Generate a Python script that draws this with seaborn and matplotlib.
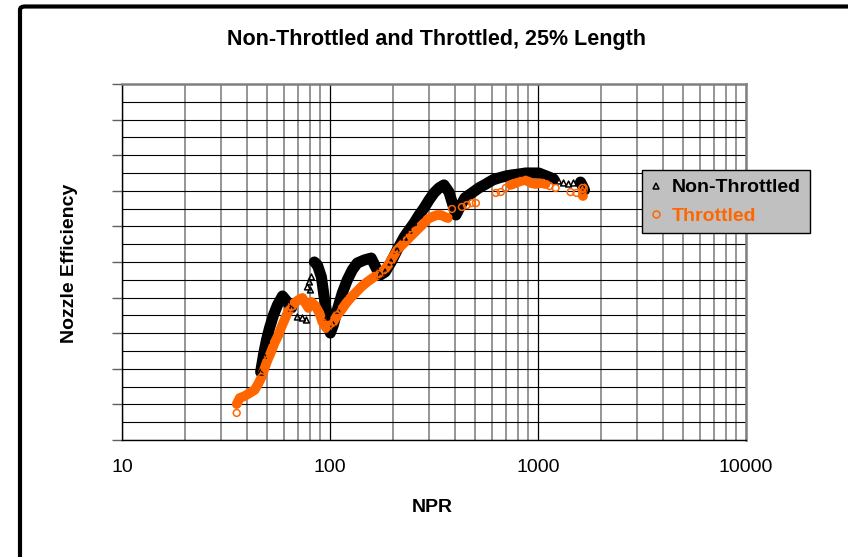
import numpy as np
import pandas as pd
import seaborn as sns
import matplotlib
matplotlib.use("Agg")
import matplotlib.pyplot as plt
from matplotlib.ticker import LogLocator, MultipleLocator, NullFormatter, FixedLocator, FixedFormatter
from matplotlib.lines import Line2D
from matplotlib.patches import FancyBboxPatch

# ---------------- data ----------------
TITLE = "Non-Throttled and Throttled, 25% Length"
X_LABEL = "NPR"
Y_LABEL = "Nozzle Efficiency"
SERIES_NAMES = ["Non-Throttled", "Throttled"]
X_TICKS = [10, 100, 1000, 10000]
X_TICK_LABELS = ["10", "100", "1000", "10000"]

# group 0 = isolated points, groups >0 = dense bands of points
nt_npr = [46.4, 47.9, 49.5, 51.2, 53.5, 55.9, 59.1, 62.4, 65.3,
          69.7, 73.7, 77.0, 77.9, 79.6, 81.4, 80.5,
          84.1, 87.0, 90.9, 93.9, 97.1, 100.4, 103.7, 108.4, 114.6, 121.1, 127.9,
          135.2, 146.0, 157.8, 166.7, 174.2, 184.1, 196.7, 210.2, 227.2, 240.0,
          253.6, 268.0, 283.2, 299.2, 316.2, 334.2, 353.1, 373.2, 390.0, 403.1,
          421.3, 445.3, 481.0, 519.6, 561.4, 606.4, 647.9, 699.8, 747.8, 807.9,
          872.9, 942.8, 1007, 1064, 1125, 1189,
          1256, 1327, 1403, 1482,
          1601, 1637, 1674]
nt_eff = [0.8382, 0.8478, 0.8562, 0.8629, 0.8702, 0.8758, 0.8809, 0.8775, 0.8742,
          0.8691, 0.8685, 0.8674, 0.8860, 0.8888, 0.8916, 0.8843,
          0.9000, 0.8983, 0.8916, 0.8798, 0.8691, 0.8601, 0.8646, 0.8730, 0.8826, 0.8899, 0.8955,
          0.8994, 0.9011, 0.9022, 0.8966, 0.8927, 0.8944, 0.9000, 0.9067, 0.9140, 0.9180,
          0.9219, 0.9264, 0.9303, 0.9348, 0.9388, 0.9416, 0.9433, 0.9393, 0.9320, 0.9264,
          0.9309, 0.9360, 0.9388, 0.9416, 0.9438, 0.9461, 0.9472, 0.9483, 0.9489, 0.9494,
          0.9500, 0.9500, 0.9500, 0.9489, 0.9478, 0.9466,
          0.9455, 0.9444, 0.9438, 0.9444,
          0.9449, 0.9427, 0.9404]
nt_grp = [1] * 9 + [0] * 7 + [2] * 47 + [0] * 4 + [3] * 3

th_npr = [35.6,
          35.6, 36.8, 38.9, 41.1, 43.4, 45.4, 46.9, 48.5, 50.1, 52.3, 54.1, 56.5,
          58.4, 60.4, 62.4, 65.3, 67.5, 70.5, 73.7, 76.1, 78.7,
          81.4, 85.1, 88.9, 91.9, 96.0, 99.3, 103.7, 108.4, 113.3, 119.8, 126.6,
          133.7, 141.3, 151.0, 163.1, 172.3, 182.1, 190.3, 196.7, 203.3, 210.2,
          222.2, 234.8, 248.1, 262.1, 274.0, 283.2, 296.0, 309.3, 326.8, 341.6,
          357.0, 369.1,
          385.8, 430.8, 455.2, 481.0, 502.8, 626.8, 662.3, 699.8,
          739.6, 781.5, 825.9, 872.9, 922.2, 974.5, 1030, 1088,
          1137, 1215, 1434, 1532,
          1637, 1637, 1637]
th_eff = [0.8152,
          0.8202, 0.8236, 0.8247, 0.8264, 0.8281, 0.8320, 0.8354, 0.8404, 0.8449, 0.8500, 0.8545, 0.8590,
          0.8635, 0.8674, 0.8713, 0.8747, 0.8770, 0.8787, 0.8798, 0.8770, 0.8742,
          0.8775, 0.8753, 0.8713, 0.8663, 0.8629, 0.8646, 0.8663, 0.8702, 0.8730, 0.8770, 0.8803,
          0.8831, 0.8860, 0.8888, 0.8916, 0.8933, 0.8955, 0.8983, 0.9011, 0.9039, 0.9067,
          0.9096, 0.9124, 0.9152, 0.9180, 0.9202, 0.9219, 0.9242, 0.9253, 0.9264, 0.9264,
          0.9253, 0.9247,
          0.9298, 0.9309, 0.9320, 0.9331, 0.9331, 0.9388, 0.9393, 0.9416,
          0.9433, 0.9444, 0.9455, 0.9461, 0.9444, 0.9438, 0.9444, 0.9438,
          0.9427, 0.9416, 0.9393, 0.9388,
          0.9416, 0.9393, 0.9371]
th_grp = [0] + [1] * 21 + [2] * 33 + [0] * 8 + [3] * 8 + [0] * 4 + [4] * 3

# ---------------- styling ----------------
BLACK = "#000000"
ORANGE = "#FF6600"

sns.set_style("white")
plt.rcParams["font.family"] = ["Liberation Sans", "DejaVu Sans"]
plt.rcParams["text.color"] = "black"
plt.rcParams["xtick.color"] = "black"
plt.rcParams["ytick.color"] = "black"
plt.rcParams["xtick.labelcolor"] = "black"

W, H = 848, 557
fig = plt.figure(figsize=(W / 100, H / 100), dpi=100)
ax = fig.add_axes([122 / W, 1 - 440 / H, (746 - 122) / W, (440 - 84) / H])

df_nt = pd.DataFrame({"npr": nt_npr, "eff": nt_eff, "grp": nt_grp})
df_th = pd.DataFrame({"npr": th_npr, "eff": th_eff, "grp": th_grp})

for df, color, marker, ms, lw in [(df_nt, BLACK, "^", 18, 8.0), (df_th, ORANGE, "o", 24, 7.0)]:
    for g, sub in df[df["grp"] > 0].groupby("grp"):
        sns.lineplot(data=sub, x="npr", y="eff", ax=ax, color=color, lw=lw,
                     estimator=None, sort=False, solid_capstyle="round",
                     solid_joinstyle="round", legend=False, zorder=3)
    sns.scatterplot(data=df, x="npr", y="eff", ax=ax, marker=marker, s=ms,
                    facecolor="none", edgecolor=color, linewidth=1.1,
                    legend=False, zorder=4)

ax.set_xscale("log")
ax.set_xlim(10, 10000)
ax.set_ylim(0.80, 1.00)
ax.xaxis.set_major_locator(FixedLocator(X_TICKS))
ax.xaxis.set_major_formatter(FixedFormatter(X_TICK_LABELS))
ax.xaxis.set_minor_locator(LogLocator(base=10, subs=range(2, 10)))
ax.xaxis.set_minor_formatter(NullFormatter())
ax.yaxis.set_major_locator(MultipleLocator(0.02))
ax.yaxis.set_minor_locator(MultipleLocator(0.01))
ax.set_yticklabels([])
ax.set_xlabel("")
ax.set_ylabel("")

ax.set_axisbelow(True)
ax.grid(which="major", axis="x", color="black", lw=0.9)
ax.grid(which="minor", axis="x", color="#8c8c8c", lw=1.3)
ax.grid(which="both", axis="y", color="black", lw=0.8)

ax.tick_params(axis="x", which="major", direction="out", length=4, width=0.9,
               color="black", labelcolor="black", pad=10, labelsize=14)
ax.tick_params(axis="x", which="minor", length=0)
ax.tick_params(axis="y", which="major", direction="out", length=7, width=1.0,
               color="#606060", left=True)
ax.tick_params(axis="y", which="minor", length=0)

for side in ["left", "bottom"]:
    ax.spines[side].set_color("black")
    ax.spines[side].set_linewidth(1.0)
for side in ["top", "right"]:
    ax.spines[side].set_color("#808080")
    ax.spines[side].set_linewidth(1.8)

# titles and labels
fig.text(436 / W, 1 - 39 / H, TITLE, ha="center", va="center", color="black",
         fontsize=15.5, fontweight="bold")
fig.text(432 / W, 1 - 508 / H, X_LABEL, ha="center", va="center", color="black",
         fontsize=14, fontweight="bold")
fig.text(70 / W, 1 - 263 / H, Y_LABEL, ha="center", va="center", color="black",
         fontsize=14, fontweight="bold", rotation=90)

# legend
handles = [Line2D([], [], ls="none", marker="^", ms=4.5, mfc="none", mec=BLACK, mew=1.1),
           Line2D([], [], ls="none", marker="o", ms=5, mfc="none", mec=ORANGE, mew=1.1)]
leg = ax.legend(handles, SERIES_NAMES, loc="upper left",
                bbox_to_anchor=(642 / W, 1 - 170 / H), bbox_transform=fig.transFigure,
                prop={"weight": "bold", "size": 14}, frameon=True, fancybox=False,
                facecolor="#c0c0c0", edgecolor="black", framealpha=1,
                handlelength=0.5, handletextpad=0.6, borderpad=0.45,
                labelspacing=0.55, borderaxespad=0)
leg.get_frame().set_linewidth(1.0)
for txt, c in zip(leg.get_texts(), [BLACK, ORANGE]):
    txt.set_color(c)

# outer chart frame (only left and top edges visible)
frame = FancyBboxPatch((20 / W, -0.2), 1.2, 1 - 6.5 / H + 0.2,
                       boxstyle="round,pad=0,rounding_size=0.006",
                       transform=fig.transFigure, fill=False, edgecolor="black",
                       linewidth=3.0, clip_on=False)
fig.patches.append(frame)

fig.savefig("out.png", dpi=100)
